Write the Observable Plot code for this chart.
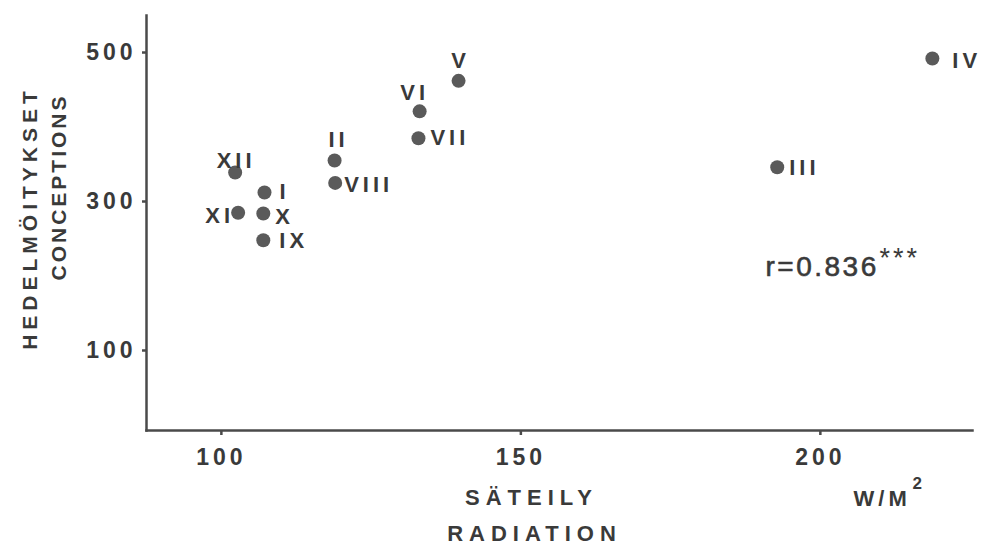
<!DOCTYPE html>
<html>
<head>
<meta charset="utf-8">
<script src="https://cdn.jsdelivr.net/npm/d3@7"></script>
<script src="https://cdn.jsdelivr.net/npm/@observablehq/plot@0.6"></script>
<style>html,body{margin:0;padding:0;background:#fff;}</style>
</head>
<body>
<div id="chart"></div>
<script>
// ---- data ----
const months = ["I","II","III","IV","V","VI","VII","VIII","IX","X","XI","XII"];
const radiation = [107.2,118.9,192.8,218.7,139.6,133.1,132.9,119.0,107.0,107.0,102.8,102.3];
const conceptions = [312,355,346,492,462,421,385,325,248,284,285,339];
const xTicks = [100,150,200];
const yTicks = [100,300,500];
const xTitle = ["SÄTEILY","RADIATION"];
const yTitle = ["HEDELMÖITYKSET","CONCEPTIONS"];
const unitLabel = ["W/M","2"];
const corrLabel = ["r=0.836","***"];

const data = months.map((m,i)=>({month:m, radiation:radiation[i], conceptions:conceptions[i]}));

// ---- label layout (offsets in px) ----
const labelLayout = {
  I:    {dx: 15, dy: -1, anchor: "start"},
  II:   {dx: 4,  dy: -21, anchor: "middle"},
  III:  {dx: 12, dy: 1, anchor: "start"},
  IV:   {dx: 20, dy: 2, anchor: "start"},
  V:    {dx: 2,  dy: -20, anchor: "middle"},
  VI:   {dx: -5, dy: -18, anchor: "middle"},
  VII:  {dx: 12, dy: 0, anchor: "start"},
  VIII: {dx: 9,  dy: 2, anchor: "start"},
  IX:   {dx: 16, dy: 1, anchor: "start"},
  X:    {dx: 12, dy: 4, anchor: "start"},
  XI:   {dx: -4, dy: 3, anchor: "end"},
  XII:  {dx: 1,  dy: -12, anchor: "middle"}
};

const ink = "#3a3a3a";
const font = "Liberation Sans, Arial, Helvetica, sans-serif";

const plot = Plot.plot({
  width: 984,
  height: 545,
  marginLeft: 146,
  marginRight: 12,
  marginTop: 15,
  marginBottom: 115,
  x: {domain: [87.5, 225.4]},
  y: {domain: [-7.4, 549.7]},
  style: {fontFamily: font, background: "#fff", color: ink},
  marks: [
    Plot.frame({anchor: "left", stroke: "#4a4a4a", strokeWidth: 2.5}),
    Plot.frame({anchor: "bottom", stroke: "#4a4a4a", strokeWidth: 2.5}),
    Plot.axisY({ticks: yTicks, tickSize: 4, tickPadding: 6, fontSize: 23, fontWeight: "bold", strokeWidth: 2.5, stroke: "#4a4a4a", fill: ink, label: null}),
    Plot.axisX({ticks: xTicks, tickSize: 5, tickPadding: 13, fontSize: 23, fontWeight: "bold", strokeWidth: 2.5, stroke: "#4a4a4a", fill: ink, label: null}),
    Plot.dot(data, {x: "radiation", y: "conceptions", r: 7, fill: "#5a5a5a", stroke: "none"}),
    ...months.map(m => Plot.text(data.filter(d => d.month === m), {
      x: "radiation", y: "conceptions", text: "month",
      dx: labelLayout[m].dx, dy: labelLayout[m].dy, textAnchor: labelLayout[m].anchor,
      fontSize: 22, fontWeight: "bold", fill: ink
    })),
    // axis titles
    Plot.text([xTitle[0]], {frameAnchor: "bottom", text: d => d, textAnchor: "middle", lineAnchor: "middle", dx: -28, dy: 67, fontSize: 22, fontWeight: "bold", fill: ink}),
    Plot.text([xTitle[1]], {frameAnchor: "bottom", text: d => d, textAnchor: "middle", lineAnchor: "middle", dx: -25, dy: 103, fontSize: 22, fontWeight: "bold", fill: ink}),
    Plot.text([yTitle[0]], {frameAnchor: "left", text: d => d, textAnchor: "middle", lineAnchor: "middle", rotate: -90, dx: -116, dy: -5, fontSize: 21, fontWeight: "bold", fill: ink}),
    Plot.text([yTitle[1]], {frameAnchor: "left", text: d => d, textAnchor: "middle", lineAnchor: "middle", rotate: -90, dx: -87.5, dy: -36, fontSize: 21, fontWeight: "bold", fill: ink}),
    // unit
    Plot.text([unitLabel[0]], {frameAnchor: "bottom-right", text: d => d, textAnchor: "start", lineAnchor: "bottom", dx: -119, dy: 75, fontSize: 22, fontWeight: "bold", fill: ink}),
    Plot.text([unitLabel[1]], {frameAnchor: "bottom-right", text: d => d, textAnchor: "start", lineAnchor: "bottom", dx: -60, dy: 58, fontSize: 17, fontWeight: "bold", fill: ink}),
    // correlation
    Plot.text([corrLabel[0]], {frameAnchor: "right", text: d => d, textAnchor: "start", lineAnchor: "bottom", dx: -207, dy: 52.5, fontSize: 28, fill: ink, stroke: ink, strokeWidth: 0.6}),
    Plot.text([corrLabel[1]], {frameAnchor: "right", text: d => d, textAnchor: "start", lineAnchor: "bottom", dx: -93, dy: 44, fontSize: 27, fill: ink})
  ]
});

const spacing = {"HEDELMÖITYKSET": 5, "CONCEPTIONS": 3, "SÄTEILY": 6, "RADIATION": 6, "W/M": 4, "2": 0, "r=0.836": 2.5, "***": 3};
d3.select(plot).selectAll("text").each(function() {
  const t = this.textContent;
  const s = spacing[t] !== undefined ? spacing[t] : 4;
  this.style.letterSpacing = s + "px";
});

document.getElementById("chart").appendChild(plot);
</script>
</body>
</html>
